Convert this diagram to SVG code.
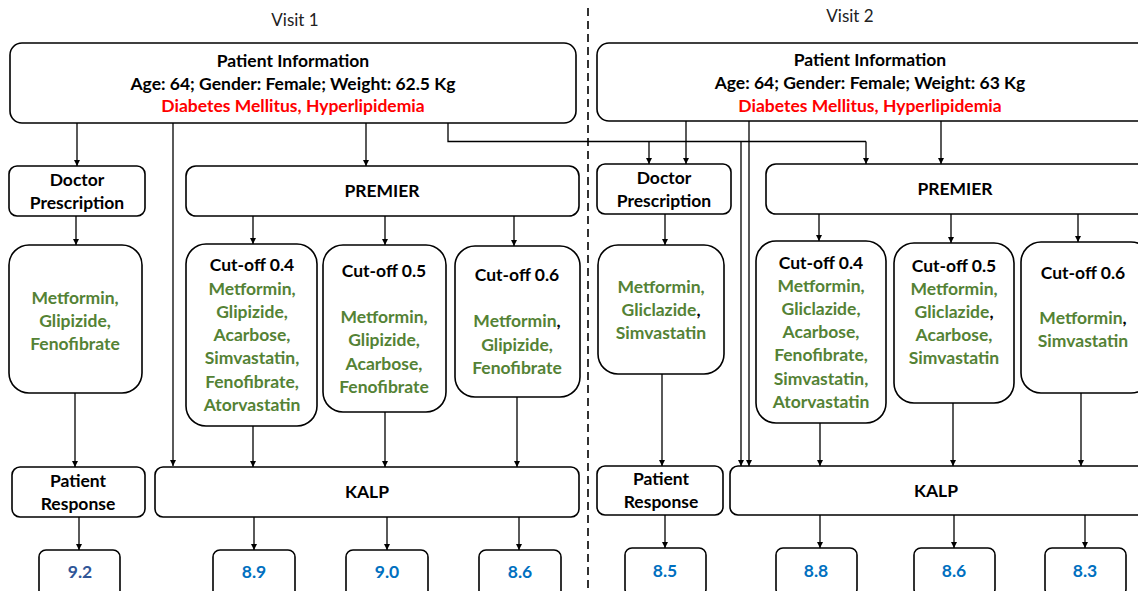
<svg xmlns="http://www.w3.org/2000/svg" width="1138" height="591" viewBox="0 0 1138 591">
<defs>
<marker id="ah" viewBox="0 0 10 10" refX="10" refY="5" markerWidth="6" markerHeight="6" markerUnits="userSpaceOnUse" orient="auto">
<path d="M0,0 L10,5 L0,10 z" fill="#000"/>
</marker>
<style>
.box{fill:#fff;stroke:#000;stroke-width:1.6}
.t{font-family:Lato,"Open Sans","Liberation Sans",sans-serif;font-weight:bold;font-size:17.5px;text-anchor:middle;fill:#000}
.g{fill:#548235}
.r{fill:#ff0000}
.b{fill:#0070c0}
.db{fill:#2f5597}
.k{fill:#000}
.vis{font-family:Lato,"Open Sans","Liberation Sans",sans-serif;font-size:17px;text-anchor:middle;fill:#222}
.c{fill:none;stroke:#000;stroke-width:1.3}
.ca{fill:none;stroke:#000;stroke-width:1.3;marker-end:url(#ah)}
</style>
</defs>
<rect width="1138" height="591" fill="#fff"/>
<text class="vis" x="295" y="26">Visit 1</text>
<text class="vis" x="850" y="22">Visit 2</text>
<line x1="588" y1="8" x2="588" y2="591" stroke="#000" stroke-width="1.6" stroke-dasharray="8,5"/>

<g id="connectors">
<!-- Visit 1 -->
<path class="ca" d="M77,123 V166"/>
<path class="ca" d="M366,123 V166"/>
<path class="ca" d="M173,123 V466"/>
<path class="c" d="M448,123 V141.5 H866"/>
<path class="ca" d="M649,141.5 V164"/>
<path class="ca" d="M866,141.5 V164"/>
<path class="ca" d="M741,141.5 V466"/>
<path class="ca" d="M76,216 V245"/>
<path class="ca" d="M253,216 V244"/>
<path class="ca" d="M385,216 V245"/>
<path class="ca" d="M514,216 V246"/>
<path class="ca" d="M75,393 V467"/>
<path class="ca" d="M253,426 V467"/>
<path class="ca" d="M385,412 V467"/>
<path class="ca" d="M517,397 V467"/>
<path class="ca" d="M79,517 V550"/>
<path class="ca" d="M254,517 V550"/>
<path class="ca" d="M387,517 V550"/>
<path class="ca" d="M519,517 V550"/>
<!-- Visit 2 -->
<path class="ca" d="M686,121 V164"/>
<path class="ca" d="M941,121 V164"/>
<path class="ca" d="M749,121 V466"/>
<path class="ca" d="M665,214 V245"/>
<path class="ca" d="M819,214 V241"/>
<path class="ca" d="M951,214 V243"/>
<path class="ca" d="M1078,212 V242"/>
<path class="ca" d="M662,374 V466"/>
<path class="ca" d="M820,423 V466"/>
<path class="ca" d="M953,403 V466"/>
<path class="ca" d="M1081,393 V466"/>
<path class="ca" d="M665,515 V548"/>
<path class="ca" d="M820,515 V548"/>
<path class="ca" d="M954,515 V548"/>
<path class="ca" d="M1085,515 V548"/>
</g>

<!-- Visit 1 nodes -->
<g id="v1-info">
<rect class="box" x="10" y="43" width="566" height="80" rx="12"/>
<text class="t" x="293" y="67">Patient Information</text>
<text class="t" x="293" y="90">Age: 64; Gender: Female; Weight: 62.5 Kg</text>
<text class="t r" x="293" y="112">Diabetes Mellitus, Hyperlipidemia</text>
</g>
<g id="v1-doctor">
<rect class="box" x="9" y="166" width="136" height="50" rx="8"/>
<text class="t" x="77" y="186">Doctor</text>
<text class="t" x="77" y="209">Prescription</text>
</g>
<g id="v1-premier">
<rect class="box" x="186" y="166" width="393" height="50" rx="10"/>
<text class="t" x="382" y="197">PREMIER</text>
</g>
<g id="v1-drugs">
<rect class="box" x="9" y="245" width="133" height="148" rx="20"/>
<text class="t g" x="75" y="304">Metformin,</text>
<text class="t g" x="75" y="327">Glipizide,</text>
<text class="t g" x="75" y="350">Fenofibrate</text>
</g>
<g id="v1-cut04">
<rect class="box" x="186" y="244" width="131" height="182" rx="20"/>
<text class="t" x="252" y="271">Cut-off 0.4</text>
<text class="t g" x="252" y="295">Metformin,</text>
<text class="t g" x="252" y="318">Glipizide,</text>
<text class="t g" x="252" y="341">Acarbose,</text>
<text class="t g" x="252" y="364">Simvastatin,</text>
<text class="t g" x="252" y="388">Fenofibrate,</text>
<text class="t g" x="252" y="411">Atorvastatin</text>
</g>
<g id="v1-cut05">
<rect class="box" x="323" y="245" width="123" height="167" rx="20"/>
<text class="t" x="384" y="277">Cut-off 0.5</text>
<text class="t g" x="384" y="323">Metformin,</text>
<text class="t g" x="384" y="346">Glipizide,</text>
<text class="t g" x="384" y="370">Acarbose,</text>
<text class="t g" x="384" y="393">Fenofibrate</text>
</g>
<g id="v1-cut06">
<rect class="box" x="455" y="246" width="125" height="151" rx="20"/>
<text class="t" x="517" y="281">Cut-off 0.6</text>
<text class="t g" x="517" y="327">Metformin<tspan class="k">,</tspan></text>
<text class="t g" x="517" y="351">Glipizide,</text>
<text class="t g" x="517" y="374">Fenofibrate</text>
</g>
<g id="v1-response">
<rect class="box" x="12" y="467" width="133" height="50" rx="8"/>
<text class="t" x="78" y="487">Patient</text>
<text class="t" x="78" y="510">Response</text>
</g>
<g id="v1-kalp">
<rect class="box" x="155" y="467" width="424" height="50" rx="8"/>
<text class="t" x="367" y="498">KALP</text>
</g>
<g id="v1-val-pr">
<rect class="box" x="39" y="550" width="81" height="48" rx="7"/>
<text class="t db" x="80" y="578">9.2</text>
</g>
<g id="v1-val-04">
<rect class="box" x="213" y="550" width="82" height="48" rx="7"/>
<text class="t b" x="254" y="578">8.9</text>
</g>
<g id="v1-val-05">
<rect class="box" x="346" y="550" width="82" height="48" rx="7"/>
<text class="t b" x="387" y="578">9.0</text>
</g>
<g id="v1-val-06">
<rect class="box" x="479" y="550" width="82" height="48" rx="7"/>
<text class="t b" x="520" y="578">8.6</text>
</g>

<!-- Visit 2 nodes -->
<g id="v2-info">
<rect class="box" x="597" y="43" width="556" height="78" rx="12"/>
<text class="t" x="870" y="66">Patient Information</text>
<text class="t" x="870" y="89">Age: 64; Gender: Female; Weight: 63 Kg</text>
<text class="t r" x="870" y="112">Diabetes Mellitus, Hyperlipidemia</text>
</g>
<g id="v2-doctor">
<rect class="box" x="597" y="164" width="134" height="50" rx="8"/>
<text class="t" x="664" y="184">Doctor</text>
<text class="t" x="664" y="207">Prescription</text>
</g>
<g id="v2-premier">
<rect class="box" x="766" y="164" width="385" height="50" rx="10"/>
<text class="t" x="955" y="195">PREMIER</text>
</g>
<g id="v2-drugs">
<rect class="box" x="598" y="245" width="126" height="129" rx="20"/>
<text class="t g" x="661" y="293">Metformin,</text>
<text class="t g" x="661" y="316">Gliclazide<tspan class="k">,</tspan></text>
<text class="t g" x="661" y="339">Simvastatin</text>
</g>
<g id="v2-cut04">
<rect class="box" x="756" y="241" width="130" height="182" rx="20"/>
<text class="t" x="821" y="269">Cut-off 0.4</text>
<text class="t g" x="821" y="292">Metformin,</text>
<text class="t g" x="821" y="315">Gliclazide,</text>
<text class="t g" x="821" y="338">Acarbose,</text>
<text class="t g" x="821" y="361">Fenofibrate,</text>
<text class="t g" x="821" y="385">Simvastatin,</text>
<text class="t g" x="821" y="408">Atorvastatin</text>
</g>
<g id="v2-cut05">
<rect class="box" x="894" y="243" width="120" height="160" rx="20"/>
<text class="t" x="954" y="272">Cut-off 0.5</text>
<text class="t g" x="954" y="295">Metformin,</text>
<text class="t g" x="954" y="318">Gliclazide<tspan class="k">,</tspan></text>
<text class="t g" x="954" y="341">Acarbose,</text>
<text class="t g" x="954" y="364">Simvastatin</text>
</g>
<g id="v2-cut06">
<rect class="box" x="1021" y="242" width="130" height="151" rx="20"/>
<text class="t" x="1083" y="279">Cut-off 0.6</text>
<text class="t g" x="1083" y="324">Metformin<tspan class="k">,</tspan></text>
<text class="t g" x="1083" y="347">Simvastatin</text>
</g>
<g id="v2-response">
<rect class="box" x="597" y="466" width="126" height="49" rx="8"/>
<text class="t" x="661" y="485">Patient</text>
<text class="t" x="661" y="508">Response</text>
</g>
<g id="v2-kalp">
<rect class="box" x="730" y="466" width="420" height="49" rx="8"/>
<text class="t" x="936" y="497">KALP</text>
</g>
<g id="v2-val-pr">
<rect class="box" x="625" y="548" width="81" height="48" rx="7"/>
<text class="t b" x="665" y="577">8.5</text>
</g>
<g id="v2-val-04">
<rect class="box" x="776" y="548" width="81" height="48" rx="7"/>
<text class="t b" x="816" y="577">8.8</text>
</g>
<g id="v2-val-05">
<rect class="box" x="914" y="548" width="81" height="48" rx="7"/>
<text class="t b" x="954" y="577">8.6</text>
</g>
<g id="v2-val-06">
<rect class="box" x="1045" y="548" width="81" height="48" rx="7"/>
<text class="t b" x="1085" y="577">8.3</text>
</g>
</svg>
